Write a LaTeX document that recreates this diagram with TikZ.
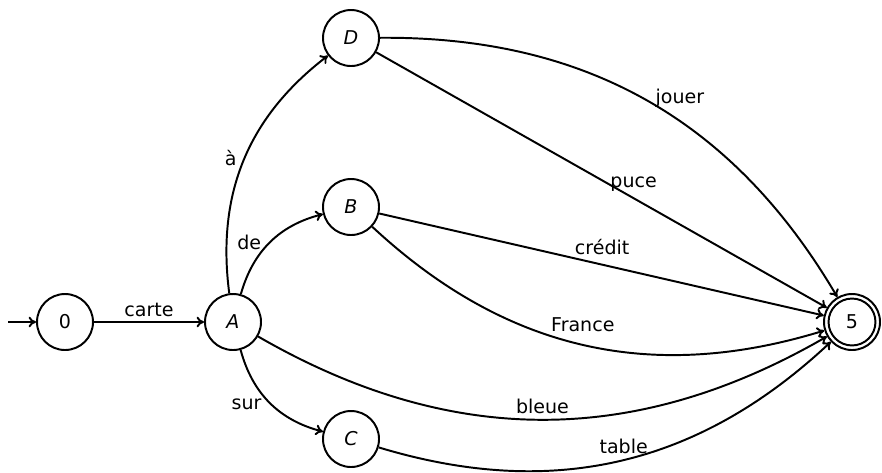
\documentclass[tikz,border=0pt]{standalone}
\usepackage{fontspec}
\setmainfont{DejaVu Sans}
\usetikzlibrary{arrows.meta}
\begin{document}
\begin{tikzpicture}[x=0.5625pt, y=-0.5625pt, line width=1.1pt,
  state/.style={circle, draw, minimum size=31.5pt, inner sep=0pt, font=\fontsize{10.7}{12}\selectfont},
  lbl/.style={font=\fontsize{10.7}{12}\selectfont, inner sep=1.5pt},
  arr/.style={-{To[length=4.2pt,width=6pt]}},
  every edge/.style={draw, arr},
  auto]
\useasboundingbox (0,0) rectangle (882,472);
\node[state] (q0) at (65,322) {0};
\node[state] (A) at (233,322) {\textit{A}};
\node[state] (D) at (351,38) {\textit{D}};
\node[state] (B) at (351,207) {\textit{B}};
\node[state] (C) at (351,439) {\textit{C}};
\node[state] (F) at (852,322) {5};
\draw (F.center) circle[radius=13.2pt];
\coordinate (init) at (8,322);
\draw[arr] (init) -- (q0);
\path (q0) edge node[lbl, yshift=1pt] {carte} (A)
      (A) edge[bend left=30] node[lbl, pos=0.46] {à} (D)
      (A) edge[bend left=30] node[lbl, pos=0.43, yshift=-3pt] {de} (B)
      (A) edge[bend right=30] node[lbl, swap, pos=0.44, yshift=1.5pt] {sur} (C)
      (D) edge[bend left=30] node[lbl, pos=0.5, xshift=3pt, yshift=-6pt] {jouer} (F)
      (D) edge node[lbl, pos=0.5, xshift=3pt, yshift=-8.5pt] {puce} (F)
      (B) edge node[lbl, pos=0.44, xshift=-2pt] {crédit} (F)
      (B) edge[bend right=30] node[lbl, pos=0.42] {France} (F)
      (A) edge[bend right=30] node[lbl, yshift=1pt] {bleue} (F)
      (C) edge[bend right=30] node[lbl, pos=0.57, yshift=-3pt] {table} (F);
\end{tikzpicture}
\end{document}
